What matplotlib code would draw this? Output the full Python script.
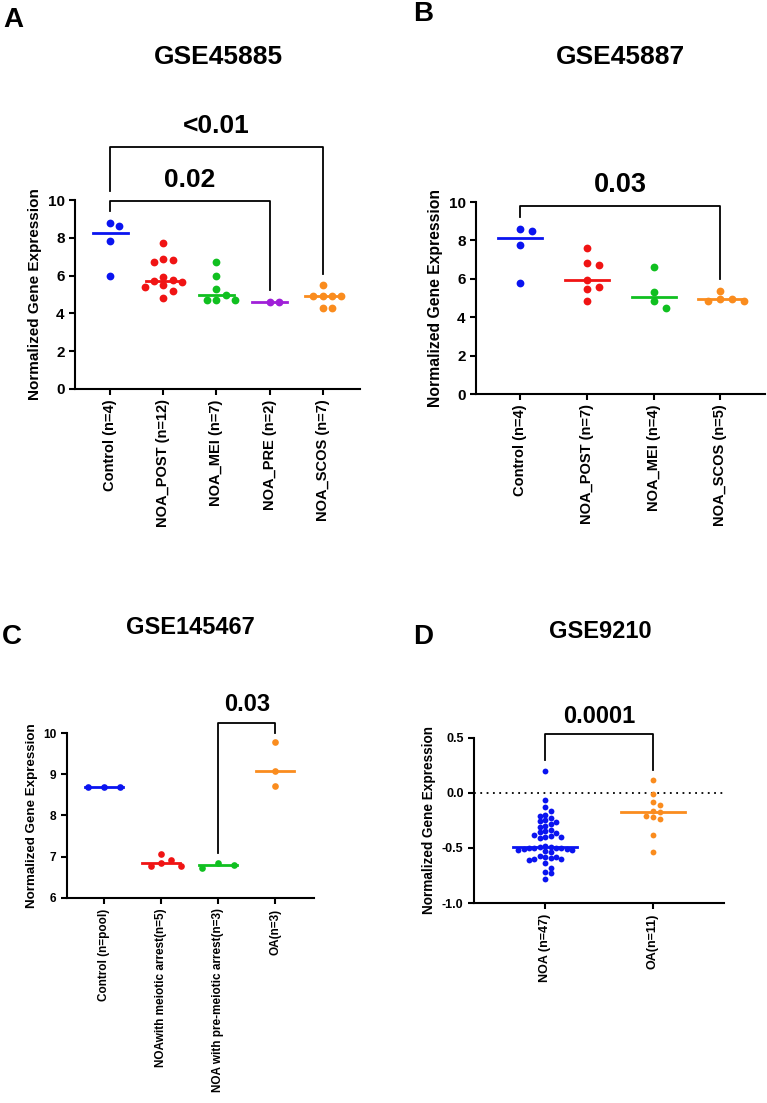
import numpy as np
import matplotlib
matplotlib.use("Agg")
import matplotlib.pyplot as plt

plt.rcParams["font.family"] = ["Liberation Sans", "DejaVu Sans"]
plt.rcParams["axes.unicode_minus"] = False

# ---- data ----
a_labels = ["Control (n=4)", "NOA_POST (n=12)", "NOA_MEI (n=7)", "NOA_PRE (n=2)", "NOA_SCOS (n=7)"]
a_control = [8.64, 8.8, 7.85, 6.0]
a_post = [7.75, 6.9, 6.85, 6.7, 5.9, 5.75, 5.7, 5.65, 5.5, 5.4, 5.2, 4.8]
a_mei = [6.7, 6.0, 5.3, 4.95, 4.7, 4.7, 4.7]
a_pre = [4.58, 4.6]
a_scos = [5.5, 4.9, 4.9, 4.9, 4.9, 4.28, 4.28]

b_labels = ["Control (n=4)", "NOA_POST (n=7)", "NOA_MEI (n=4)", "NOA_SCOS (n=5)"]
b_control = [8.49, 8.6, 7.76, 5.77]
b_post = [7.59, 6.8, 6.72, 5.92, 5.58, 5.48, 4.84]
b_mei = [6.6, 5.32, 4.82, 4.49]
b_scos = [5.39, 4.96, 4.96, 4.85, 4.85]

c_labels = ["Control (n=pool)", "NOAwith meiotic arrest(n=5)",
            "NOA with pre-meiotic arrest(n=3)", "OA(n=3)"]
c_control = [8.7, 8.7, 8.7]
c_mei = [7.07, 6.92, 6.85, 6.78, 6.77]
c_pre = [6.72, 6.84, 6.79]
c_oa = [9.77, 9.07, 8.71]

d_labels = ["NOA (n=47)", "OA(n=11)"]
d_noa = [0.20, -0.07, -0.13, -0.17, -0.20, -0.21, -0.23, -0.25, -0.26, -0.27,
         -0.28, -0.30, -0.31, -0.34, -0.35, -0.36, -0.37, -0.38, -0.39, -0.40,
         -0.40, -0.41, -0.48, -0.49, -0.49, -0.50, -0.50, -0.50, -0.50, -0.51,
         -0.51, -0.52, -0.52, -0.53, -0.54, -0.57, -0.58, -0.58, -0.59, -0.60,
         -0.60, -0.61, -0.64, -0.68, -0.72, -0.73, -0.78]
d_oa = [0.115, -0.01, -0.085, -0.11, -0.165, -0.175, -0.21, -0.225, -0.24, -0.385, -0.535]

BLUE, RED, GREEN, PURPLE, ORANGE = "#0A14F0", "#F01414", "#10C020", "#A020D8", "#FA8C1E"

W, H = 767, 1103
fig = plt.figure(figsize=(W / 100, H / 100), dpi=100)


def box(x0, x1, ytop, ybot):
    return [x0 / W, 1 - ybot / H, (x1 - x0) / W, (ybot - ytop) / H]


def swarm(ax, xc, vals, gap, diam):
    # simple beeswarm in pixel space
    pts = ax.transData.transform(np.column_stack([np.full(len(vals), xc), vals]))
    placed = []
    xs = np.zeros(len(vals))
    for i in np.argsort(vals)[::-1]:
        px, py = pts[i]
        k = 0
        while True:
            off = ((k + 1) // 2) * gap * (1 if k % 2 else -1)
            cand = px + off
            if all((cand - qx) ** 2 + (py - qy) ** 2 >= diam ** 2 for qx, qy in placed):
                break
            k += 1
        placed.append((cand, py))
        xs[i] = cand
    back = ax.transData.inverted().transform(np.column_stack([xs, pts[:, 1]]))
    return back[:, 0]


def style(ax, ylabel, ylsize, ticksize, xticksize, labels):
    for s in ["top", "right"]:
        ax.spines[s].set_visible(False)
    for s in ["left", "bottom"]:
        ax.spines[s].set_linewidth(1.5)
    ax.tick_params(direction="out", length=4, width=1.5, labelsize=ticksize)
    ax.set_xticks(range(len(labels)))
    ax.set_xticklabels(labels, rotation=90, fontsize=xticksize, fontweight="bold")
    for t in ax.get_yticklabels():
        t.set_fontweight("bold")
    ax.set_ylabel(ylabel, fontsize=ylsize, fontweight="bold")


def groups(ax, data, colors, ms, gap, hw, overlap=0.95):
    diam = ms * 100 / 72 * overlap
    for i, (vals, c) in enumerate(zip(data, colors)):
        g = gap[i] if isinstance(gap, (list, tuple)) else gap
        xs = swarm(ax, i, vals, g, diam)
        ax.plot(xs, vals, "o", color=c, ms=ms, mec="none", clip_on=False, zorder=3)
        m = np.median(vals)
        ax.plot([i - hw, i + hw], [m, m], color=c, lw=2, zorder=2)


def bracket(ax, x1, x2, top, yl, yr, text, ty, size):
    ax.plot([x1, x1, x2, x2], [yl, top, top, yr], color="black", lw=1.3, clip_on=False)
    ax.text((x1 + x2) / 2, ty, text, ha="center", va="center", fontsize=size,
            fontweight="bold", clip_on=False)


# ---- A ----
axA = fig.add_axes(box(75, 360, 200, 389))
axA.set_xlim(-0.66, 4.7)
axA.set_ylim(0, 10)
axA.set_yticks([0, 2, 4, 6, 8, 10])
style(axA, "Normalized Gene Expression", 11, 11, 10.5, a_labels)
groups(axA, [a_control, a_post, a_mei, a_pre, a_scos],
       [BLUE, RED, GREEN, PURPLE, ORANGE], 5.6, 9.3, 0.33)
bracket(axA, 0, 3, 9.95, 9.4, 5.25, "0.02", 11.05, 19)
bracket(axA, 0, 4, 12.8, 10.5, 6.1, "<0.01", 13.9, 19)

# ---- B ----
axB = fig.add_axes(box(476, 765, 202, 394))
axB.set_xlim(-0.66, 3.67)
axB.set_ylim(0, 10)
axB.set_yticks([0, 2, 4, 6, 8, 10])
style(axB, "Normalized Gene Expression", 11.3, 11, 10.5, b_labels)
groups(axB, [b_control, b_post, b_mei, b_scos], [BLUE, RED, GREEN, ORANGE], 5.6, 12, 0.33)
bracket(axB, 0, 3, 9.77, 9.2, 6.0, "0.03", 10.87, 19.5)

# ---- C ----
axC = fig.add_axes(box(67, 314, 733, 898))
axC.set_xlim(-0.65, 3.68)
axC.set_ylim(6, 10)
axC.set_yticks([6, 7, 8, 9, 10])
style(axC, "Normalized Gene Expression", 9.6, 8.6, 8.5, c_labels)
groups(axC, [c_control, c_mei, c_pre, c_oa], [BLUE, RED, GREEN, ORANGE], 4.8,
       [16, 10, 16, 10], 0.33)
bracket(axC, 2, 3, 10.24, 7.09, 10.0, "0.03", 10.68, 17)

# ---- D ----
axD = fig.add_axes(box(474, 724, 737.5, 903))
axD.set_xlim(-0.66, 1.66)
axD.set_ylim(-1.0, 0.5)
axD.set_yticks([-1.0, -0.5, 0.0, 0.5])
axD.set_yticklabels(["-1.0", "-0.5", "0.0", "0.5"])
style(axD, "Normalized Gene Expression", 9.8, 9, 9, d_labels)
axD.axhline(0, color="black", lw=1.3, ls=(0, (1, 2.5)), zorder=1)
groups(axD, [d_noa, d_oa], [BLUE, ORANGE], 4.2, [5.4, 6.8], 0.3, overlap=0.92)
bracket(axD, 0, 1, 0.533, 0.30, 0.207, "0.0001", 0.69, 17)

# ---- titles and panel letters ----
for txt, x, y, s in [("GSE45885", 218, 57, 19), ("GSE45887", 620, 57, 19),
                     ("GSE145467", 190, 628, 17), ("GSE9210", 600, 632, 17)]:
    fig.text(x / W, 1 - y / H, txt, ha="center", va="center", fontsize=s, fontweight="bold")
for txt, x, y in [("A", 13, 20), ("B", 423, 14), ("C", 12, 637), ("D", 423, 637)]:
    fig.text(x / W, 1 - y / H, txt, ha="center", va="center", fontsize=20, fontweight="bold")

fig.savefig("out.png", dpi=100)
